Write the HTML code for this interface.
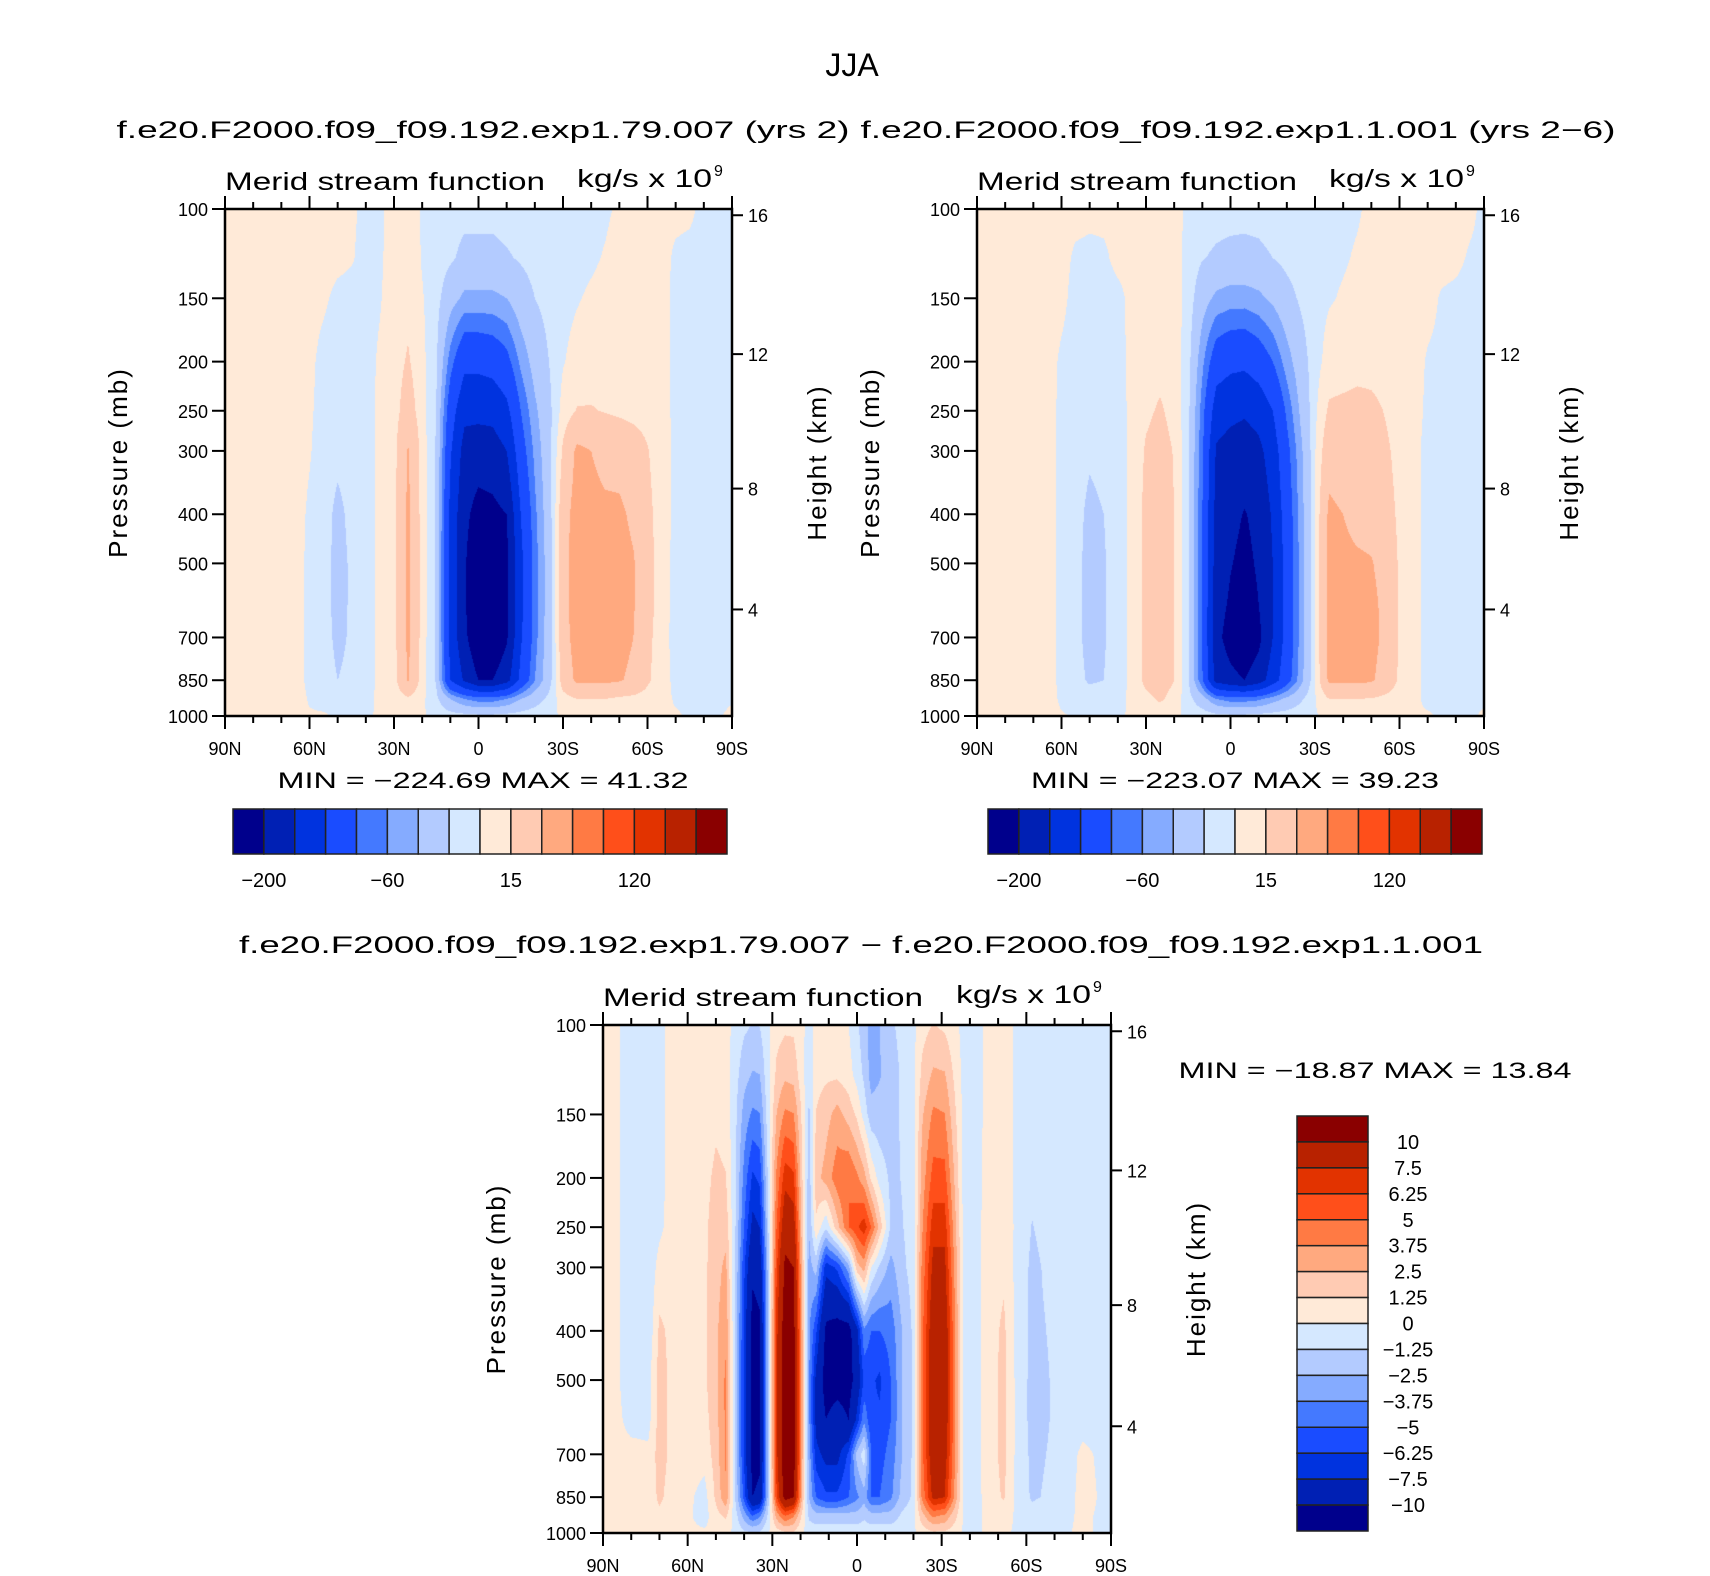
<!DOCTYPE html>
<html><head><meta charset="utf-8">
<style>
html,body{margin:0;padding:0;background:#fff;}
#wrap{position:relative;width:1710px;height:1576px;overflow:hidden;background:#fff;}
canvas{position:absolute;}
svg{position:absolute;left:0;top:0;}
text{font-family:"Liberation Sans",sans-serif;fill:#000;}
</style></head>
<body>
<div id="wrap">
<canvas id="c1"></canvas>
<canvas id="c2"></canvas>
<canvas id="c3"></canvas>
<svg id="ov" width="1710" height="1576"></svg>
</div>
<script>
// ---------------- data ----------------
const levels=[100,125,150,200,250,300,400,500,600,700,850,925,1000];
const pressureTicks=[100,150,200,250,300,400,500,700,850,1000];
const heightTicks=[4,8,12,16];
const latTicks=[90,60,30,0,-30,-60,-90];
const latTickLabels=["90N","60N","30N","0","30S","60S","90S"];
const colors=['#00008c','#0020b4','#0033df','#1a4cff','#4479ff','#85abff','#b3cbff','#d5e8ff','#ffead8','#ffcbb3','#ffa97f','#ff7a44','#ff4f1a','#e23300','#b82200','#8a0000'];
const contourLevels=[-200,-160,-120,-80,-60,-40,-15,0,15,40,60,80,120,160,200];
const cbarLabels=["-200","","","","-60","","","","15","","","","120","",""];
const diffLevels=[-10,-7.5,-6.25,-5,-3.75,-2.5,-1.25,0,1.25,2.5,3.75,5,6.25,7.5,10];
const diffLabels=["-10","-7.5","-6.25","-5","-3.75","-2.5","-1.25","0","1.25","2.5","3.75","5","6.25","7.5","10"];
const lats1=[90,85,80,75,70,65,60,55,50,45,40,35,30,25,20,15,10,5,0,-5,-10,-15,-20,-25,-30,-35,-40,-45,-50,-55,-60,-65,-70,-75,-80,-85,-90];
const psi1=[
[2,2,2,2,2,2,2,2,2,2,2,2,2],
[4,4,4,4,4,4,4,4,4,4,4,4,3],
[5,5,5,5,5,5,5,5,5,5,5,5,3],
[5,5,5,5,5,5,5,5,5,5,5,5,3],
[5,5,5,5,5,5,5,5,5,5,5,5,3],
[5,5,5,5,5,5,5,5,5,5,5,5,3],
[4,4,4,3,2,1,-2,-3,-3,-3,-3,-1,1],
[4,4,2,-4,-5,-6,-7,-7,-7,-7,-6,-3,1],
[3,3,-3,-7,-8,-10,-20,-22,-22,-20,-15,-5,-1],
[2,1,-4,-6,-7,-8,-10,-12,-12,-12,-10,-5,-1],
[-3,-4,-5,-5,-5,-5,-5,-5,-5,-5,-5,-3,-1],
[-2,-2,-1,2,3,3,3,3,3,3,3,2,1],
[5,6,7,8,8,9,9,9,9,9,8,5,2],
[6,8,10,17,25,42,45,45,45,45,42,12,3],
[-1,-1,1,4,6,8,8,8,8,8,7,3,1],
[-4,-5,-8,-12,-15,-17,-18,-18,-18,-18,-17,-10,-3],
[-8,-12,-30,-70,-100,-115,-130,-132,-132,-132,-120,-40,-6],
[-10,-20,-45,-110,-150,-175,-190,-195,-195,-190,-165,-60,-8],
[-10,-20,-45,-110,-150,-180,-215,-235,-240,-235,-200,-70,-10],
[-10,-20,-45,-105,-148,-178,-210,-235,-240,-235,-200,-70,-10],
[-8,-17,-40,-90,-130,-160,-200,-210,-210,-205,-175,-60,-8],
[-6,-13,-25,-55,-80,-95,-120,-130,-130,-125,-110,-40,-6],
[-5,-9,-15,-30,-45,-55,-65,-70,-70,-68,-60,-25,-4],
[-5,-7,-9,-15,-20,-22,-25,-27,-27,-26,-24,-10,-2],
[-6,-6,-4,-1,6,18,30,32,32,30,25,8,1],
[-5,-4,-1,5,16,45,50,52,52,50,45,15,2],
[-4,-2,2,8,16,40,48,52,52,50,45,15,2],
[-2,1,4,10,14,32,45,52,52,50,45,15,2],
[2,5,6,10,12,30,45,50,50,48,42,12,2],
[3,5,6,10,10,25,35,42,42,40,35,10,2],
[3,5,6,8,9,16,20,22,22,20,18,8,2],
[3,4,4,4,5,6,7,7,7,6,5,3,1],
[3,-2,-3,-3,-3,-3,-3,-5,-5,-5,-3,-1,1],
[2,-3,-3,-3,-3,-3,-3,-3,-3,-3,-3,-2,-1],
[-3,-3,-3,-3,-3,-3,-3,-3,-3,-3,-3,-2,-1],
[-3,-3,-3,-3,-3,-3,-3,-3,-3,-3,-3,-2,-1],
[-2,-2,-2,-2,-2,-2,-2,-2,-2,-2,-2,-1,2]
];
const lats2=[90,85,80,75,70,65,60,55,50,45,40,35,30,25,20,15,10,5,0,-5,-10,-15,-20,-25,-30,-35,-40,-45,-50,-55,-60,-65,-70,-75,-80,-85,-90];
const psi2=[
[3,3,3,3,3,3,3,3,3,3,3,3,3],
[4,4,4,4,4,4,4,4,4,4,4,4,3],
[5,5,5,5,5,5,5,5,5,5,5,5,3],
[5,5,5,5,5,5,5,5,5,5,5,5,3],
[5,5,5,5,5,5,5,5,5,5,5,5,3],
[5,5,5,5,5,5,5,5,5,5,5,5,3],
[4,4,3,-2,-3,-3,-3,-3,-3,-3,-3,-2,1],
[4,-2,-4,-5,-6,-7,-8,-9,-9,-9,-8,-4,-1],
[3,-3,-5,-7,-8,-12,-20,-22,-22,-22,-18,-5,-1],
[3,-2,-5,-6,-7,-9,-15,-17,-17,-17,-15,-4,-1],
[3,3,-3,-4,-5,-5,-5,-5,-5,-5,-5,-3,-1],
[3,3,3,3,3,3,3,3,3,3,3,2,1],
[5,6,7,9,12,17,20,20,20,20,20,10,3],
[6,7,8,10,17,22,25,27,27,27,26,18,4],
[5,5,6,8,10,14,15,15,15,15,15,8,2],
[-3,-4,-5,-8,-10,-12,-12,-12,-12,-12,-12,-8,-2],
[-6,-14,-30,-55,-70,-75,-80,-82,-82,-82,-78,-30,-4],
[-8,-18,-45,-100,-140,-165,-175,-180,-185,-190,-175,-60,-8],
[-9,-20,-50,-110,-150,-175,-190,-198,-205,-215,-190,-70,-10],
[-10,-20,-50,-112,-155,-180,-202,-210,-220,-230,-200,-70,-10],
[-9,-19,-45,-100,-145,-170,-190,-195,-200,-210,-180,-65,-8],
[-7,-15,-35,-80,-120,-140,-155,-160,-160,-160,-140,-50,-6],
[-5,-10,-22,-50,-75,-90,-100,-105,-105,-105,-95,-35,-5],
[-4,-7,-12,-25,-35,-45,-50,-52,-52,-52,-48,-18,-3],
[-3,-3,-4,-5,-3,-1,1,1,1,1,0,-1,-1],
[-3,-2,-1,5,18,30,45,48,48,48,45,15,2],
[-2,-1,1,6,20,25,40,48,48,48,45,15,2],
[-1,1,3,8,22,25,30,45,48,48,45,15,2],
[2,3,4,8,20,23,28,42,48,48,43,14,2],
[3,4,5,7,14,18,22,28,32,34,30,10,2],
[4,4,5,6,8,10,12,13,13,13,12,7,2],
[4,4,4,4,4,3,3,3,3,3,3,2,1],
[4,4,3,-1,-2,-3,-3,-3,-3,-3,-3,-2,1],
[3,3,-1,-2,-3,-3,-3,-3,-3,-3,-3,-2,-1],
[3,2,-2,-3,-3,-3,-3,-3,-3,-3,-3,-2,-1],
[2,-1,-3,-3,-3,-3,-3,-3,-3,-3,-3,-2,-1],
[-2,-2,-2,-2,-2,-2,-2,-2,-2,-2,-2,-1,1]
];
const latsDiff=[90,86,80,74,70,66,60,54,50,46.5,43,40,37,34.5,31.5,28.5,25.5,22.5,19.5,17,14.5,11,7,3,0,-2.5,-5,-8,-12,-16,-20,-23,-27,-31,-35,-38,-43,-46,-52,-57,-62,-66,-72,-80,-90];
const psiDiff=[
[1,1,1,1,1,1,1,1,1,1,1,1,1],
[0.5,0.5,0.5,0.5,0.5,0.5,0.5,0.5,0.5,0.5,0.5,0.5,0.5],
[-1,-1,-1,-1,-1,-1,-1,-1,-0.5,0.5,0.8,0.8,0.5],
[-1,-1,-1,-1,-1,-1,-1,-0.5,-0.5,0.3,0.5,0.5,0.3],
[-0.5,-0.5,-0.5,-0.5,-0.3,0.5,1.5,1.8,1.8,1.8,1.5,1,0.5],
[0.5,0.5,0.5,0.5,0.5,0.8,1,1,1,1,0.8,0.5,0.3],
[0.5,0.5,0.6,0.6,0.7,0.8,0.8,0.8,0.8,0.6,0.3,0.2,0.2],
[0.5,0.5,0.6,0.9,1,1,1,1,0.8,0.5,-0.5,-0.5,0.2],
[0.5,0.6,1,1.5,1.8,2,2.2,2.2,2,1.8,1.5,0.8,0.3],
[0.5,0.6,0.8,1.3,2,2.8,3.5,4,4,4,3.5,1.5,0.3],
[-0.5,-0.8,-1,-1.2,-1.3,-1.5,-1.6,-1.8,-1.8,-1.8,-1.5,-0.8,-0.3],
[-1,-2,-3,-4.2,-5,-6,-6.5,-6.5,-6.5,-6.5,-5.5,-3,-1],
[-1.3,-2.6,-4,-6.5,-8,-9.5,-11,-11,-11,-11,-10,-5,-1],
[-1.2,-2.5,-3.8,-6,-7.5,-9,-10.5,-10.5,-10.5,-10.5,-9.5,-4,-1],
[-0.2,-0.3,-0.5,-1,-1.5,-2,-2,-2,-2,-2,-2,-1,0],
[0.8,1.5,2.5,4,5,6,7,7,7,7,6,3,0.5],
[1,2.2,4,7,9,10.5,11.5,12,12,12,11,5,1],
[1,2,3.8,6.5,8.5,10,11,11.5,11.5,11.5,10,4,1],
[0.3,0.5,1,1.5,2,2.5,3,3,3,3,2.5,1,0.2],
[-0.5,-1,-1.5,-2,-2.5,-3,-3.5,-3.5,-3.5,-3,-2.5,-1.5,-0.5],
[0.5,0.8,1.3,2,1,-2,-6,-8,-8,-7,-5,-2,-0.5],
[0.5,1,2,3,-1,-7,-10.5,-11,-10,-8,-6,-2,-0.5],
[0.3,1,3,4.5,2,-6,-11,-11,-9,-8,-6,-2,-0.5],
[0,0.5,2,5,5,-3,-11,-11,-10,-6,-5,-2,-0.5],
[-1,-0.5,1,4,6,2,-8,-9,-7,-2,-4,-2,-0.5],
[-2,-1.5,-0.5,3,7,3,-4,-6,-4,-0.5,-3,-1.5,-0.5],
[-3,-3,-2,1,5,0,-5,-6,-6,-5,-5,-2,-0.5],
[-2.5,-2.6,-2,-0.5,2,-1.5,-5,-6.5,-6,-5.5,-5,-2,-0.5],
[-1.5,-2,-2,-1.5,-1.5,-3,-4.5,-5,-5,-4.5,-4,-2,-0.5],
[-0.8,-1,-1,-1.2,-1.3,-1.5,-2.5,-2.5,-2.5,-2.5,-2,-1,-0.3],
[-0.3,-0.4,-0.5,-0.8,-0.8,-0.8,-1,-1,-1,-1,-1,-0.5,-0.2],
[0.8,1.5,2.3,3,3.5,4,4.5,4.5,4.5,4.5,4,2,0.5],
[1.3,2.7,4,5.5,7,8,9,9,9,9,8,4,1],
[1,2.6,3.8,5.5,7,8,9,9,9,8.5,7.5,3.5,1],
[0.3,0.8,1.3,2,2.6,3,3.5,3.5,3.5,3.5,3,1.5,0.5],
[-0.5,-0.5,-0.5,-0.6,-0.6,-0.6,-0.6,-0.6,-0.6,-0.6,-0.5,-0.3,-0.2],
[-0.5,-0.5,-0.5,-0.4,-0.3,-0.3,-0.3,-0.3,-0.3,-0.3,-0.3,-0.2,-0.2],
[0.5,0.5,0.5,0.5,0.6,0.6,0.6,0.6,0.6,0.6,0.5,0.3,0.2],
[0.5,0.5,0.6,0.8,0.9,1,1.5,1.6,1.6,1.6,1.4,0.6,0.2],
[-0.3,-0.3,-0.3,-0.4,-0.4,-0.5,-0.5,-0.5,-0.5,-0.5,-0.5,-0.3,-0.2],
[-0.5,-0.6,-0.8,-1,-1.3,-1.5,-1.5,-1.6,-1.6,-1.5,-1.4,-0.8,-0.3],
[-0.5,-0.5,-0.6,-0.8,-1,-1.2,-1.3,-1.4,-1.4,-1.3,-1.2,-0.7,-0.3],
[-0.6,-0.6,-0.6,-0.6,-0.8,-1,-1,-1,-1,-1,-1,-0.5,-0.3],
[-0.5,-0.5,-0.5,-0.5,-0.5,-0.5,-0.5,-0.5,-0.5,0.3,0.5,0.3,0.3],
[-0.5,-0.5,-0.5,-0.5,-0.5,-0.5,-0.5,-0.5,-0.5,-0.5,-0.5,-0.5,-0.5]
];
const stats1=["-224.69","41.32"], stats2=["-223.07","39.23"], statsDiff=["-18.87","13.84"];

// ---------------- helpers ----------------
const NS="http://www.w3.org/2000/svg";
const ov=document.getElementById('ov');
function mk(tag,attrs,parent){const e=document.createElementNS(NS,tag);for(const k in attrs)e.setAttribute(k,attrs[k]);(parent||ov).appendChild(e);return e;}
function txt(s,x,y,size,anchor,parent,len){const t=mk('text',{x:x,y:y,'font-size':size,'text-anchor':anchor||'middle'},parent);if(len){t.setAttribute('textLength',len);t.setAttribute('lengthAdjust','spacingAndGlyphs');}t.textContent=s;return t;}
function hexToRgb(h){return [parseInt(h.slice(1,3),16),parseInt(h.slice(3,5),16),parseInt(h.slice(5,7),16)];}
const rgb=colors.map(hexToRgb);
function band(v,b){let i=0;while(i<b.length&&v>=b[i])i++;return i;}
const logLev=levels.map(p=>Math.log10(p));
function pToFrac(p){return (Math.log10(p)-2);}
function zToP(km){const z=km*1000;if(z<=11000)return 1013.25*Math.pow(1-2.25577e-5*z,5.25588);return 226.32*Math.exp(-(z-11000)/6341.6);}

function renderField(canvasId,P,lats,psi,bounds){
  const c=document.getElementById(canvasId);
  c.style.left=P.x+'px';c.style.top=P.y+'px';c.width=P.w;c.height=P.h;
  const ctx=c.getContext('2d');const img=ctx.createImageData(P.w,P.h);const d=img.data;
  for(let px=0;px<P.w;px++){
    const lat=90-(px+0.5)/P.w*180;
    let j=0;while(j<lats.length-2&&lat<lats[j+1])j++;
    const tx=(lats[j]-lat)/(lats[j]-lats[j+1]);
    for(let py=0;py<P.h;py++){
      const lp=2+(py+0.5)/P.h;
      let k=0;while(k<logLev.length-2&&lp>logLev[k+1])k++;
      const ty=Math.min(1,Math.max(0,(lp-logLev[k])/(logLev[k+1]-logLev[k])));
      const v=(1-tx)*((1-ty)*psi[j][k]+ty*psi[j][k+1])+tx*((1-ty)*psi[j+1][k]+ty*psi[j+1][k+1]);
      const col=rgb[band(v,bounds)];const o=(py*P.w+px)*4;
      d[o]=col[0];d[o+1]=col[1];d[o+2]=col[2];d[o+3]=255;
    }
  }
  ctx.putImageData(img,0,0);
}

function drawAxes(P,name){
  const g=mk('g',{});
  
  
  const X=lat=>P.x+(90-lat)/180*P.w;
  const Y=p=>P.y+pToFrac(p)*P.h;
  for(let lat=90;lat>=-90;lat-=10){
    const major=(lat%30===0);const L=major?13:7;const x=X(lat);
    const tb=mk('line',{x1:x,y1:P.y+P.h,x2:x,y2:P.y+P.h+L,stroke:'#000','stroke-width':2},g);
    
    
    const tt=mk('line',{x1:x,y1:P.y,x2:x,y2:P.y-L,stroke:'#000','stroke-width':2},g);
    
    
  }
  latTicks.forEach((lat,i)=>{
    const t=txt(latTickLabels[i],X(lat),P.y+P.h+39,18,'middle',g);
    
    
  });
  pressureTicks.forEach(p=>{
    const y=Y(p);
    const l=mk('line',{x1:P.x-13,y1:y,x2:P.x,y2:y,stroke:'#000','stroke-width':2},g);
    
    
    const t=txt(String(p),P.x-17,y+7,18,'end',g);
    
    
  });
  heightTicks.forEach(h=>{
    const y=Y(zToP(h));
    const l=mk('line',{x1:P.x+P.w,y1:y,x2:P.x+P.w+11,y2:y,stroke:'#000','stroke-width':2},g);
    
    
    const t=txt(String(h),P.x+P.w+16,y+7,18,'start',g);
    
    
  });
  const fr=mk('rect',{x:P.x,y:P.y,width:P.w,height:P.h,fill:'none',stroke:'#000','stroke-width':2.5},g);
  
  
  const yl=txt('Pressure (mb)',0,0,26,'middle',g);
  yl.setAttribute('transform','translate('+(P.x-98)+','+(P.y+P.h/2)+') rotate(-90)');
  yl.setAttribute('letter-spacing','2');
  
  
  const hl=txt('Height (km)',0,0,26,'middle',g);
  hl.setAttribute('transform','translate('+(P.x+P.w+94)+','+(P.y+P.h/2)+') rotate(-90)');
  hl.setAttribute('letter-spacing','2');
  
  
  const ls=txt('Merid stream function',P.x,P.y-19,25,'start',g,320);
  
  
  const rs=txt('kg/s x 10',P.x+P.w-20,P.y-22,25,'end',g,135);
  
  
  const sup=txt('9',P.x+P.w-18,P.y-33,16,'start',g);
  
  
}

function hColorbar(x,y,w,h,name){
  const g=mk('g',{});
  
  
  const bw=w/colors.length;
  colors.forEach((c,i)=>{
    const r=mk('rect',{x:x+i*bw,y:y,width:bw,height:h,fill:c,stroke:'#222','stroke-width':1.5},g);
    
    
  });
  cbarLabels.forEach((s,i)=>{
    if(!s)return;
    const t=txt(s.replace('-','\u2212'),x+(i+1)*bw,y+h+33,20,'middle',g);
    
    
  });
}

// ---------------- panels ----------------
const P1={x:225,y:209,w:507,h:507}, P2={x:977,y:209,w:507,h:507}, P3={x:603,y:1025,w:508,h:508};
renderField('c1',P1,lats1,psi1,contourLevels);
renderField('c2',P2,lats2,psi2,contourLevels);
renderField('c3',P3,latsDiff,psiDiff,diffLevels);
drawAxes(P1,'panel-1');
drawAxes(P2,'panel-2');
drawAxes(P3,'difference-panel');

const ti=txt('JJA',852,76,32,'middle');


const s1=txt('f.e20.F2000.f09_f09.192.exp1.79.007 (yrs 2)',483,138,24,'middle',null,733);


const s2=txt('f.e20.F2000.f09_f09.192.exp1.1.001 (yrs 2\u22126)',1238,138,24,'middle',null,755);


const s3=txt('f.e20.F2000.f09_f09.192.exp1.79.007 \u2212 f.e20.F2000.f09_f09.192.exp1.1.001',861,953,24,'middle',null,1244);



const m1=txt('MIN = \u2212'+stats1[0].slice(1)+'   MAX =  '+stats1[1],483,788,22,'middle',null,411);


const m2=txt('MIN = \u2212'+stats2[0].slice(1)+'   MAX =  '+stats2[1],1235,788,22,'middle',null,408);


const m3=txt('MIN = \u2212'+statsDiff[0].slice(1)+'   MAX =  '+statsDiff[1],1375,1078,22,'middle',null,393);



hColorbar(233,809,494,45,'panel-1-colorbar');
hColorbar(988,809,494,45,'panel-2-colorbar');

const gv=mk('g',{});


const vbh=(1531-1116)/colors.length;
colors.forEach((c,i)=>{
  const idx=colors.length-1-i;
  const r=mk('rect',{x:1297,y:1116+i*vbh,width:71,height:vbh,fill:colors[idx],stroke:'#222','stroke-width':1.5},gv);
  
  
});
diffLabels.forEach((s,i)=>{
  const k=diffLabels.length-1-i;
  const t=txt(s.replace('-','\u2212'),1408,1116+(k+1)*vbh+7,20,'middle',gv);
  
  
});
</script>
</body></html>
